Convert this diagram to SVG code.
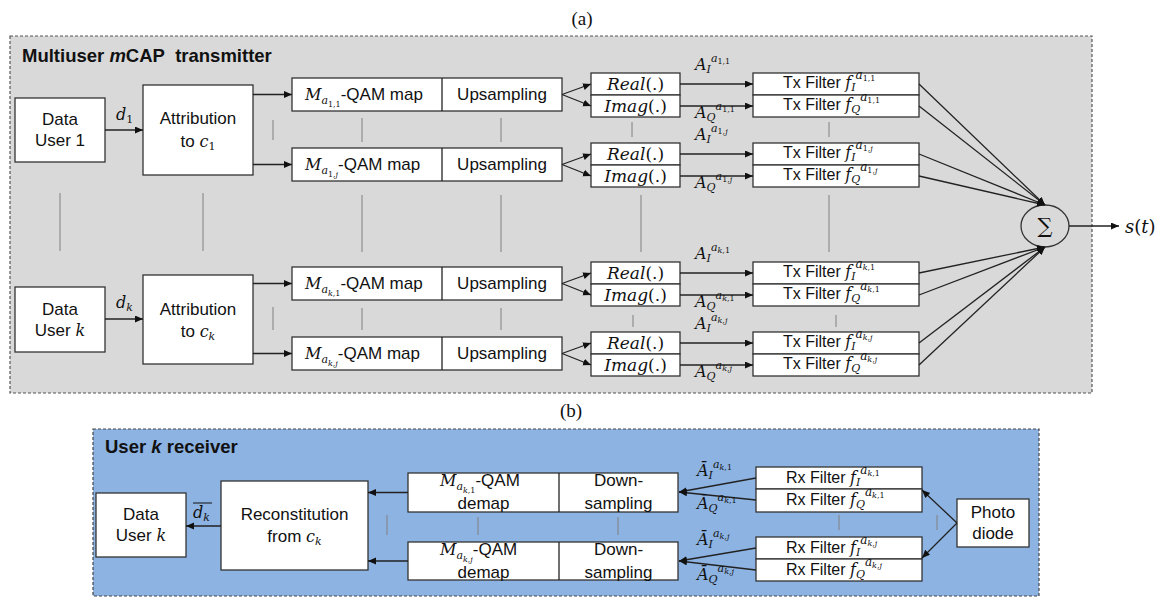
<svg xmlns="http://www.w3.org/2000/svg" width="1167" height="602" viewBox="0 0 1167 602">
<defs>
  <marker id="ah" markerWidth="9" markerHeight="8" refX="8" refY="3.5" orient="auto" markerUnits="userSpaceOnUse">
    <path d="M0,0 L8,3.5 L0,7 z" fill="#111"/>
  </marker>
</defs>
<style>
  .box{fill:#fff;stroke:#333;stroke-width:1.3}
  .ln{stroke:#222;stroke-width:1.3;fill:none}
  .arr{stroke:#222;stroke-width:1.3;fill:none;marker-end:url(#ah)}
  .sep{stroke:#808080;stroke-width:1}
  .t{font-family:"Liberation Sans",Arial,sans-serif;font-size:17px;font-style:normal;fill:#111}
  .tf{font-family:"Liberation Sans",Arial,sans-serif;font-size:16px;font-style:normal;fill:#111}
  .m{font-family:"DejaVu Serif",serif;font-style:italic;font-size:16px;fill:#111}
  .h{font-family:"Liberation Sans",Arial,sans-serif;font-size:18.5px;font-weight:bold;fill:#111}
  .c{text-anchor:middle}
  .sb{font-family:"DejaVu Serif",serif;font-style:italic;font-size:11px}
  .sp{font-family:"DejaVu Serif",serif;font-style:italic;font-size:12px}
  .ss{font-family:"DejaVu Serif",serif;font-style:normal;font-size:8px}
  .n1{font-family:"DejaVu Serif",serif;font-style:normal;font-size:11px}
  .ri{font-size:17px}
  .i{font-style:italic}
  .up{font-style:normal}
  .cap{font-family:"Liberation Serif","Times New Roman",serif;font-size:19px;fill:#111}
</style>

<!-- panel captions -->
<text class="cap c" x="582" y="25">(a)</text>
<text class="cap c" x="571" y="417">(b)</text>

<!-- transmitter panel -->
<g id="tx-panel">
  <rect x="10" y="36" width="1082" height="357" fill="#d9d9d9" stroke="#555" stroke-width="1.2" stroke-dasharray="3,2"/>
  <text class="h" x="22" y="62">Multiuser <tspan font-style="italic">m</tspan>CAP&#160; transmitter</text>
</g>

<!-- receiver panel -->
<g id="rx-panel">
  <rect x="93" y="429" width="946" height="167" fill="#8db3e2" stroke="#444" stroke-width="1.2" stroke-dasharray="3,2"/>
  <text class="h" x="105" y="453">User <tspan font-style="italic">k</tspan> receiver</text>
</g>

<!-- ===== transmitter nodes ===== -->
<g id="data-user-1">
  <rect class="box" x="15" y="98" width="90" height="64"/>
  <text class="t c" x="60" y="125">Data</text>
  <text class="t c" x="60" y="146">User 1</text>
</g>
<g id="attribution-1">
  <rect class="box" x="143" y="85" width="110" height="90"/>
  <text class="t c" x="198" y="124">Attribution</text>
  <text class="t c" x="198" y="147">to <tspan class="m">c</tspan><tspan class="n1" dy="3">1</tspan></text>
</g>
<g id="data-user-k">
  <rect class="box" x="15" y="287" width="90" height="65"/>
  <text class="t c" x="60" y="315">Data</text>
  <text class="t c" x="60" y="336">User <tspan class="m">k</tspan></text>
</g>
<g id="attribution-k">
  <rect class="box" x="143" y="275" width="110" height="89"/>
  <text class="t c" x="198" y="315">Attribution</text>
  <text class="t c" x="198" y="337">to <tspan class="m">c</tspan><tspan class="sb" dy="3">k</tspan></text>
</g>

<!-- mapper / upsampler rows -->
<g id="map-11">
  <rect class="box" x="292" y="78" width="270" height="33"/>
  <line class="ln" x1="442" y1="78" x2="442" y2="111"/>
  <text class="m" x="305" y="100">M<tspan class="sb" dy="4">a</tspan><tspan class="ss" dy="3">1,1</tspan><tspan class="t" dy="-7">-QAM map</tspan></text>
  <text class="t c" x="502" y="100">Upsampling</text>
</g>
<g id="map-1j">
  <rect class="box" x="292" y="148" width="270" height="33"/>
  <line class="ln" x1="442" y1="148" x2="442" y2="181"/>
  <text class="m" x="305" y="170">M<tspan class="sb" dy="4">a</tspan><tspan class="ss" dy="3">1,<tspan class="i">j</tspan></tspan><tspan class="t" dy="-7">-QAM map</tspan></text>
  <text class="t c" x="502" y="170">Upsampling</text>
</g>
<g id="map-k1">
  <rect class="box" x="292" y="267" width="270" height="33"/>
  <line class="ln" x1="442" y1="267" x2="442" y2="300"/>
  <text class="m" x="305" y="289">M<tspan class="sb" dy="4">a</tspan><tspan class="ss" dy="3"><tspan class="i">k</tspan>,1</tspan><tspan class="t" dy="-7">-QAM map</tspan></text>
  <text class="t c" x="502" y="289">Upsampling</text>
</g>
<g id="map-kj">
  <rect class="box" x="292" y="337" width="270" height="33"/>
  <line class="ln" x1="442" y1="337" x2="442" y2="370"/>
  <text class="m" x="305" y="359">M<tspan class="sb" dy="4">a</tspan><tspan class="ss" dy="3"><tspan class="i">k</tspan>,<tspan class="i">j</tspan></tspan><tspan class="t" dy="-7">-QAM map</tspan></text>
  <text class="t c" x="502" y="359">Upsampling</text>
</g>

<!-- real / imaginary split -->
<g id="split-11">
  <rect class="box" x="591" y="73" width="89" height="22"/>
  <rect class="box" x="591" y="95" width="89" height="22"/>
  <text class="m ri c" x="635.5" y="90">Real<tspan class="up">(.)</tspan></text>
  <text class="m ri c" x="635.5" y="112">Imag<tspan class="up">(.)</tspan></text>
</g>
<g id="split-1j">
  <rect class="box" x="591" y="143" width="89" height="22"/>
  <rect class="box" x="591" y="165" width="89" height="22"/>
  <text class="m ri c" x="635.5" y="160">Real<tspan class="up">(.)</tspan></text>
  <text class="m ri c" x="635.5" y="182">Imag<tspan class="up">(.)</tspan></text>
</g>
<g id="split-k1">
  <rect class="box" x="591" y="262" width="89" height="22"/>
  <rect class="box" x="591" y="284" width="89" height="22"/>
  <text class="m ri c" x="635.5" y="279">Real<tspan class="up">(.)</tspan></text>
  <text class="m ri c" x="635.5" y="301">Imag<tspan class="up">(.)</tspan></text>
</g>
<g id="split-kj">
  <rect class="box" x="591" y="332" width="89" height="22"/>
  <rect class="box" x="591" y="354" width="89" height="22"/>
  <text class="m ri c" x="635.5" y="349">Real<tspan class="up">(.)</tspan></text>
  <text class="m ri c" x="635.5" y="371">Imag<tspan class="up">(.)</tspan></text>
</g>

<!-- transmit filters -->
<g id="txf-11">
  <rect class="box" x="753" y="73" width="166" height="22"/>
  <rect class="box" x="753" y="95" width="166" height="22"/>
  <text class="tf" x="783" y="88">Tx Filter <tspan class="m">f</tspan><tspan class="sb" dy="3">I</tspan><tspan class="sp" dy="-12">a</tspan><tspan class="ss" dy="2">1,1</tspan></text>
  <text class="tf" x="783" y="110">Tx Filter <tspan class="m">f</tspan><tspan class="sb" dy="3">Q</tspan><tspan class="sp" dy="-12">a</tspan><tspan class="ss" dy="2">1,1</tspan></text>
</g>
<g id="txf-1j">
  <rect class="box" x="753" y="143" width="166" height="22"/>
  <rect class="box" x="753" y="165" width="166" height="22"/>
  <text class="tf" x="783" y="158">Tx Filter <tspan class="m">f</tspan><tspan class="sb" dy="3">I</tspan><tspan class="sp" dy="-12">a</tspan><tspan class="ss" dy="2">1,<tspan class="i">j</tspan></tspan></text>
  <text class="tf" x="783" y="180">Tx Filter <tspan class="m">f</tspan><tspan class="sb" dy="3">Q</tspan><tspan class="sp" dy="-12">a</tspan><tspan class="ss" dy="2">1,<tspan class="i">j</tspan></tspan></text>
</g>
<g id="txf-k1">
  <rect class="box" x="753" y="262" width="166" height="22"/>
  <rect class="box" x="753" y="284" width="166" height="22"/>
  <text class="tf" x="783" y="277">Tx Filter <tspan class="m">f</tspan><tspan class="sb" dy="3">I</tspan><tspan class="sp" dy="-12">a</tspan><tspan class="ss" dy="2"><tspan class="i">k</tspan>,1</tspan></text>
  <text class="tf" x="783" y="299">Tx Filter <tspan class="m">f</tspan><tspan class="sb" dy="3">Q</tspan><tspan class="sp" dy="-12">a</tspan><tspan class="ss" dy="2"><tspan class="i">k</tspan>,1</tspan></text>
</g>
<g id="txf-kj">
  <rect class="box" x="753" y="332" width="166" height="22"/>
  <rect class="box" x="753" y="354" width="166" height="22"/>
  <text class="tf" x="783" y="347">Tx Filter <tspan class="m">f</tspan><tspan class="sb" dy="3">I</tspan><tspan class="sp" dy="-12">a</tspan><tspan class="ss" dy="2"><tspan class="i">k</tspan>,<tspan class="i">j</tspan></tspan></text>
  <text class="tf" x="783" y="369">Tx Filter <tspan class="m">f</tspan><tspan class="sb" dy="3">Q</tspan><tspan class="sp" dy="-12">a</tspan><tspan class="ss" dy="2"><tspan class="i">k</tspan>,<tspan class="i">j</tspan></tspan></text>
</g>

<!-- summing node -->
<g id="sum">
  <ellipse cx="1045" cy="226" rx="24" ry="21" fill="#d9d9d9" stroke="#333" stroke-width="1.3"/>
  <text x="1045" y="233" text-anchor="middle" font-family="DejaVu Serif, serif" font-size="21" fill="#111">∑</text>
</g>
<g id="output">
  <text class="m" x="1125" y="233" style="font-size:18px">s<tspan class="up">(</tspan>t<tspan class="up">)</tspan></text>
</g>

<!-- ===== receiver nodes ===== -->
<g id="rx-data-user-k">
  <rect class="box" x="96" y="493" width="90" height="64"/>
  <text class="t c" x="141" y="520">Data</text>
  <text class="t c" x="141" y="541">User <tspan class="m">k</tspan></text>
</g>
<g id="reconstitution">
  <rect class="box" x="221" y="481" width="147" height="89"/>
  <text class="t c" x="294.5" y="520">Reconstitution</text>
  <text class="t c" x="294.5" y="542">from <tspan class="m">c</tspan><tspan class="sb" dy="3">k</tspan></text>
</g>
<g id="demap-k1">
  <rect class="box" x="408" y="473" width="270" height="39"/>
  <line class="ln" x1="559" y1="473" x2="559" y2="512"/>
  <text class="m" x="440" y="486">M<tspan class="sb" dy="4">a</tspan><tspan class="ss" dy="3"><tspan class="i">k</tspan>,1</tspan><tspan class="t" dy="-7">-QAM</tspan></text>
  <text class="t c" x="483.5" y="509">demap</text>
  <text class="t c" x="618.5" y="486">Down-</text>
  <text class="t c" x="618.5" y="509">sampling</text>
</g>
<g id="demap-kj">
  <rect class="box" x="408" y="542" width="270" height="38"/>
  <line class="ln" x1="559" y1="542" x2="559" y2="580"/>
  <text class="m" x="440" y="555">M<tspan class="sb" dy="4">a</tspan><tspan class="ss" dy="3"><tspan class="i">k</tspan>,<tspan class="i">j</tspan></tspan><tspan class="t" dy="-7">-QAM</tspan></text>
  <text class="t c" x="483.5" y="578">demap</text>
  <text class="t c" x="618.5" y="555">Down-</text>
  <text class="t c" x="618.5" y="578">sampling</text>
</g>
<g id="rxf-k1">
  <rect class="box" x="756" y="467" width="166" height="22"/>
  <rect class="box" x="756" y="489" width="166" height="23"/>
  <text class="tf" x="786" y="483">Rx Filter <tspan class="m">f</tspan><tspan class="sb" dy="3">I</tspan><tspan class="sp" dy="-12">a</tspan><tspan class="ss" dy="2"><tspan class="i">k</tspan>,1</tspan></text>
  <text class="tf" x="786" y="505">Rx Filter <tspan class="m">f</tspan><tspan class="sb" dy="3">Q</tspan><tspan class="sp" dy="-12">a</tspan><tspan class="ss" dy="2"><tspan class="i">k</tspan>,1</tspan></text>
</g>
<g id="rxf-kj">
  <rect class="box" x="756" y="537" width="166" height="22"/>
  <rect class="box" x="756" y="559" width="166" height="22"/>
  <text class="tf" x="786" y="553">Rx Filter <tspan class="m">f</tspan><tspan class="sb" dy="3">I</tspan><tspan class="sp" dy="-12">a</tspan><tspan class="ss" dy="2"><tspan class="i">k</tspan>,<tspan class="i">j</tspan></tspan></text>
  <text class="tf" x="786" y="575">Rx Filter <tspan class="m">f</tspan><tspan class="sb" dy="3">Q</tspan><tspan class="sp" dy="-12">a</tspan><tspan class="ss" dy="2"><tspan class="i">k</tspan>,<tspan class="i">j</tspan></tspan></text>
</g>
<g id="photodiode">
  <rect class="box" x="957" y="499" width="72" height="48"/>
  <text class="t c" x="993" y="518">Photo</text>
  <text class="t c" x="993" y="539">diode</text>
</g>

<!-- ===== connectors ===== -->
<g id="connectors">
  <!-- transmitter: user data into attribution -->
  <line class="arr" x1="105" y1="130" x2="143" y2="130"/>
  <line class="arr" x1="105" y1="319" x2="143" y2="319"/>
  <!-- attribution to mappers -->
  <line class="arr" x1="253" y1="94.5" x2="292" y2="94.5"/>
  <line class="arr" x1="253" y1="164.5" x2="292" y2="164.5"/>
  <line class="arr" x1="253" y1="283.5" x2="292" y2="283.5"/>
  <line class="arr" x1="253" y1="353.5" x2="292" y2="353.5"/>
  <!-- upsampling to real/imag -->
  <line class="arr" x1="562" y1="94.5" x2="591" y2="84"/>
  <line class="arr" x1="562" y1="94.5" x2="591" y2="106"/>
  <line class="arr" x1="562" y1="164.5" x2="591" y2="154"/>
  <line class="arr" x1="562" y1="164.5" x2="591" y2="176"/>
  <line class="arr" x1="562" y1="283.5" x2="591" y2="273"/>
  <line class="arr" x1="562" y1="283.5" x2="591" y2="295"/>
  <line class="arr" x1="562" y1="353.5" x2="591" y2="343"/>
  <line class="arr" x1="562" y1="353.5" x2="591" y2="365"/>
  <!-- I/Q branches to filters -->
  <line class="arr" x1="680" y1="84" x2="753" y2="84"/>
  <line class="arr" x1="680" y1="106" x2="753" y2="106"/>
  <line class="arr" x1="680" y1="154" x2="753" y2="154"/>
  <line class="arr" x1="680" y1="176" x2="753" y2="176"/>
  <line class="arr" x1="680" y1="273" x2="753" y2="273"/>
  <line class="arr" x1="680" y1="295" x2="753" y2="295"/>
  <line class="arr" x1="680" y1="343" x2="753" y2="343"/>
  <line class="arr" x1="680" y1="365" x2="753" y2="365"/>
  <!-- filters to summing node -->
  <line class="arr" x1="919" y1="84" x2="1045" y2="205"/>
  <line class="arr" x1="919" y1="106" x2="1045" y2="205"/>
  <line class="arr" x1="919" y1="154" x2="1045" y2="205"/>
  <line class="arr" x1="919" y1="176" x2="1045" y2="205"/>
  <line class="arr" x1="919" y1="273" x2="1045" y2="247"/>
  <line class="arr" x1="919" y1="295" x2="1045" y2="247"/>
  <line class="arr" x1="919" y1="343" x2="1045" y2="247"/>
  <line class="arr" x1="919" y1="365" x2="1045" y2="247"/>
  <line class="arr" x1="1069" y1="226" x2="1119" y2="226"/>

  <!-- receiver -->
  <line class="arr" x1="957" y1="523" x2="922" y2="490"/>
  <line class="arr" x1="957" y1="523" x2="922" y2="558"/>
  <line class="arr" x1="756" y1="478" x2="679" y2="492"/>
  <line class="arr" x1="756" y1="500" x2="679" y2="492"/>
  <line class="arr" x1="756" y1="548" x2="679" y2="561"/>
  <line class="arr" x1="756" y1="570" x2="679" y2="561"/>
  <line class="arr" x1="408" y1="492.5" x2="368" y2="492.5"/>
  <line class="arr" x1="408" y1="561" x2="368" y2="561"/>
  <line class="arr" x1="221" y1="526" x2="186" y2="526"/>

  <!-- connector labels -->
  <text class="m" x="116" y="120">d<tspan class="n1" dy="3">1</tspan></text>
  <text class="m" x="116" y="308">d<tspan class="sb" dy="3">k</tspan></text>
  <line x1="193" y1="503" x2="212" y2="503" stroke="#111" stroke-width="1"/>
  <text class="m" x="193" y="518">d<tspan class="sb" dy="3">k</tspan></text>

  <text class="m" x="695" y="70">A<tspan class="sb" dy="3">I</tspan><tspan class="sb" dy="-11">a</tspan><tspan class="ss" dy="2">1,1</tspan></text>
  <text class="m" x="695" y="118">A<tspan class="sb" dy="3">Q</tspan><tspan class="sb" dy="-11">a</tspan><tspan class="ss" dy="2">1,1</tspan></text>
  <text class="m" x="695" y="140">A<tspan class="sb" dy="3">I</tspan><tspan class="sb" dy="-11">a</tspan><tspan class="ss" dy="2">1,<tspan class="i">j</tspan></tspan></text>
  <text class="m" x="695" y="188">A<tspan class="sb" dy="3">Q</tspan><tspan class="sb" dy="-11">a</tspan><tspan class="ss" dy="2">1,<tspan class="i">j</tspan></tspan></text>
  <text class="m" x="695" y="259">A<tspan class="sb" dy="3">I</tspan><tspan class="sb" dy="-11">a</tspan><tspan class="ss" dy="2"><tspan class="i">k</tspan>,1</tspan></text>
  <text class="m" x="695" y="307">A<tspan class="sb" dy="3">Q</tspan><tspan class="sb" dy="-11">a</tspan><tspan class="ss" dy="2"><tspan class="i">k</tspan>,1</tspan></text>
  <text class="m" x="695" y="329">A<tspan class="sb" dy="3">I</tspan><tspan class="sb" dy="-11">a</tspan><tspan class="ss" dy="2"><tspan class="i">k</tspan>,<tspan class="i">j</tspan></tspan></text>
  <text class="m" x="695" y="377">A<tspan class="sb" dy="3">Q</tspan><tspan class="sb" dy="-11">a</tspan><tspan class="ss" dy="2"><tspan class="i">k</tspan>,<tspan class="i">j</tspan></tspan></text>

  <text class="m" x="697" y="476">Ā<tspan class="sb" dy="3">I</tspan><tspan class="sb" dy="-11">a</tspan><tspan class="ss" dy="2"><tspan class="i">k</tspan>,1</tspan></text>
  <text class="m" x="697" y="509">Ā<tspan class="sb" dy="3">Q</tspan><tspan class="sb" dy="-11">a</tspan><tspan class="ss" dy="2"><tspan class="i">k</tspan>,1</tspan></text>
  <text class="m" x="697" y="545">Ā<tspan class="sb" dy="3">I</tspan><tspan class="sb" dy="-11">a</tspan><tspan class="ss" dy="2"><tspan class="i">k</tspan>,<tspan class="i">j</tspan></tspan></text>
  <text class="m" x="697" y="580">Ā<tspan class="sb" dy="3">Q</tspan><tspan class="sb" dy="-11">a</tspan><tspan class="ss" dy="2"><tspan class="i">k</tspan>,<tspan class="i">j</tspan></tspan></text>
</g>

<!-- parallel-branch ellipsis marks -->
<g id="branch-marks">
  <line class="sep" x1="60" y1="193" x2="60" y2="251"/>
  <line class="sep" x1="203" y1="193" x2="203" y2="251"/>
  <line class="sep" x1="362" y1="195" x2="362" y2="252"/>
  <line class="sep" x1="501" y1="195" x2="501" y2="252"/>
  <line class="sep" x1="641" y1="195" x2="641" y2="252"/>
  <line class="sep" x1="829" y1="195" x2="829" y2="252"/>
  <line class="sep" x1="273" y1="120" x2="273" y2="140"/>
  <line class="sep" x1="362" y1="118" x2="362" y2="142"/>
  <line class="sep" x1="501" y1="118" x2="501" y2="142"/>
  <line class="sep" x1="632" y1="122" x2="632" y2="137"/>
  <line class="sep" x1="829" y1="122" x2="829" y2="137"/>
  <line class="sep" x1="273" y1="307" x2="273" y2="330"/>
  <line class="sep" x1="362" y1="308" x2="362" y2="330"/>
  <line class="sep" x1="501" y1="308" x2="501" y2="330"/>
  <line class="sep" x1="633" y1="315" x2="633" y2="327"/>
  <line class="sep" x1="836" y1="315" x2="836" y2="327"/>
  <line class="sep" x1="387" y1="515" x2="387" y2="535"/>
  <line class="sep" x1="478" y1="517" x2="478" y2="535"/>
  <line class="sep" x1="618" y1="517" x2="618" y2="535"/>
  <line class="sep" x1="839" y1="515" x2="839" y2="530"/>
  <line class="sep" x1="937" y1="515" x2="937" y2="530"/>
</g>
</svg>
